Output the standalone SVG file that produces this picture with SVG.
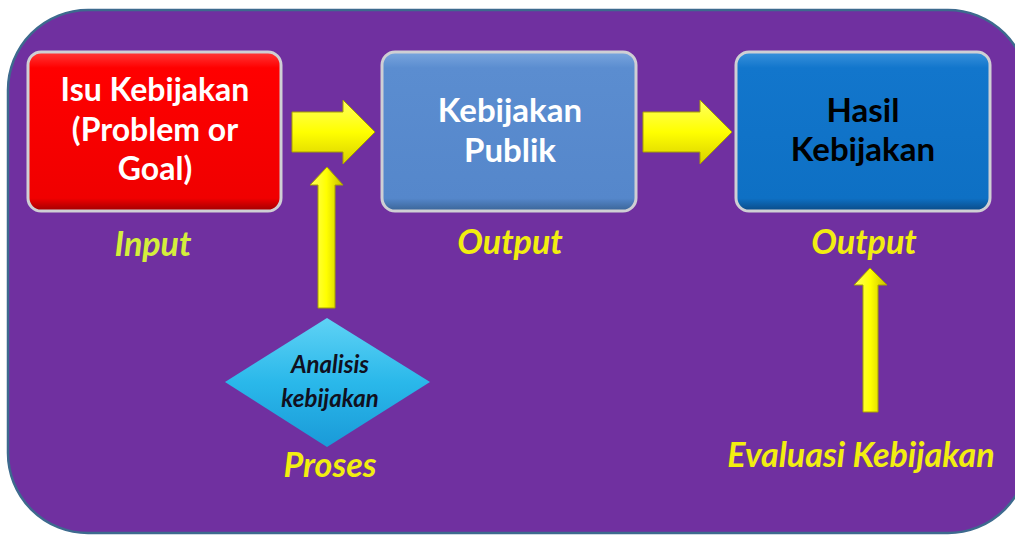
<svg xmlns="http://www.w3.org/2000/svg" width="1015" height="538" viewBox="0 0 1015 538">
<style>
.box{stroke:#cfcfd4;stroke-width:3}
.t{font-family:Lato,"Liberation Sans",sans-serif;font-weight:bold;text-anchor:middle}
.lbl{font-family:Lato,"Liberation Sans",sans-serif;font-weight:bold;font-style:italic;text-anchor:middle;font-size:34px;fill:#f2ee10}
.arr{fill:url(#yel);stroke:#a8a000;stroke-width:1}
.dt{font-family:Lato,"Liberation Sans",sans-serif;font-weight:bold;font-style:italic;text-anchor:middle;font-size:24px;fill:#101020}
</style>
<defs>
<linearGradient id="red" x1="0" y1="0" x2="0" y2="1"><stop offset="0" stop-color="#ff3a3a"/><stop offset="0.1" stop-color="#ff0000"/><stop offset="0.92" stop-color="#f00000"/><stop offset="1" stop-color="#a00000"/></linearGradient>
<linearGradient id="blue1" x1="0" y1="0" x2="0" y2="1"><stop offset="0" stop-color="#7aa6de"/><stop offset="0.1" stop-color="#5b8dd0"/><stop offset="0.92" stop-color="#5587cb"/><stop offset="1" stop-color="#3a6496"/></linearGradient>
<linearGradient id="blue2" x1="0" y1="0" x2="0" y2="1"><stop offset="0" stop-color="#3a92dc"/><stop offset="0.1" stop-color="#1276cc"/><stop offset="0.92" stop-color="#0e70c4"/><stop offset="1" stop-color="#0a4a86"/></linearGradient>
<linearGradient id="yel" x1="0" y1="0" x2="0" y2="1"><stop offset="0" stop-color="#ffff60"/><stop offset="0.5" stop-color="#ffff00"/><stop offset="1" stop-color="#d8d000"/></linearGradient>
<linearGradient id="yelv" x1="0" y1="0" x2="1" y2="0"><stop offset="0" stop-color="#ffff60"/><stop offset="0.5" stop-color="#ffff00"/><stop offset="1" stop-color="#c8c000"/></linearGradient>
<linearGradient id="cyan" x1="0" y1="0" x2="0" y2="1"><stop offset="0" stop-color="#5fd2f5"/><stop offset="0.5" stop-color="#2ab8ea"/><stop offset="1" stop-color="#1a9ad8"/></linearGradient>
</defs>
<rect x="8" y="10" width="1020" height="523" rx="80" ry="80" fill="#7030a0" stroke="#3d6a8e" stroke-width="2.5"/>
<g id="connectors">
<path class="arr" d="M292,112 H343 V100 L375,132 L343,164 V152 H292 Z"/>
<path class="arr" d="M643,112 H700 V100 L732,132 L700,164 V152 H643 Z"/>
<path class="arr" style="fill:url(#yelv)" d="M318,308 V185 H310 L327,167 L343,185 H335 V308 Z"/>
<path class="arr" style="fill:url(#yelv)" d="M863,412 V285 H854 L870,268 L887,285 H878 V412 Z"/>
</g>
<g id="isu">
<rect class="box" x="28" y="52" width="253" height="159" rx="13" fill="url(#red)"/>
<text class="t" font-size="32" fill="#ffffff"><tspan x="155" y="101">Isu Kebijakan</tspan><tspan x="155" y="141">(Problem or</tspan><tspan x="155" y="180">Goal)</tspan></text>
</g>
<g id="publik">
<rect class="box" x="382" y="52" width="254" height="159" rx="13" fill="url(#blue1)"/>
<text class="t" font-size="33" fill="#ffffff"><tspan x="510" y="122">Kebijakan</tspan><tspan x="510" y="162">Publik</tspan></text>
</g>
<g id="hasil">
<rect class="box" x="736" y="52" width="254" height="159" rx="13" fill="url(#blue2)"/>
<text class="t" font-size="33" fill="#000000"><tspan x="863" y="122">Hasil</tspan><tspan x="863" y="161">Kebijakan</tspan></text>
</g>
<g id="analisis">
<polygon points="327,318 430,382 327,447 225,382" fill="url(#cyan)"/>
<text class="dt"><tspan x="330" y="373">Analisis</tspan><tspan x="330" y="407">kebijakan</tspan></text>
</g>
<g id="labels">
<text class="lbl" x="153" y="256" style="fill:#d4ee3c">Input</text>
<text class="lbl" x="510" y="254">Output</text>
<text class="lbl" x="864" y="254">Output</text>
<text class="lbl" x="330" y="477">Proses</text>
<text class="lbl" x="861" y="467">Evaluasi Kebijakan</text>
</g>
</svg>
